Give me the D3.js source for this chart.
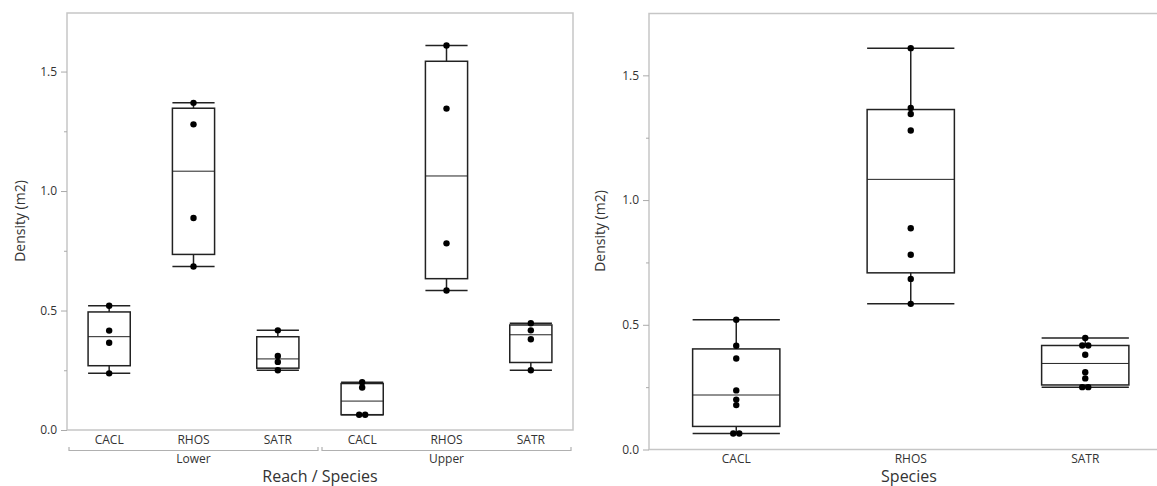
<!DOCTYPE html>
<meta charset="utf-8">

<!-- Load d3.js -->
<script src="https://d3js.org/d3.v7.min.js"></script>

<style>
  body { margin: 0; background: #fff; }
  text { font-family: "Segoe UI", "Open Sans", sans-serif; fill: #333; }
</style>

<div id="chart"></div>

<script>

// ---- data ----
var reaches = ["Lower", "Upper"];
var species = ["CACL", "RHOS", "SATR"];

// densities, one array per reach / species
var lowerCACL = [0.52, 0.416, 0.365, 0.237];
var lowerRHOS = [1.369, 1.279, 0.887, 0.684];
var lowerSATR = [0.417, 0.31, 0.285, 0.25];
var upperCACL = [0.20, 0.178, 0.064, 0.064];
var upperRHOS = [1.609, 1.345, 0.781, 0.584];
var upperSATR = [0.447, 0.417, 0.38, 0.25];

var yTicks = [0, 0.5, 1.0, 1.5];
var yMinor = [0.25, 0.75, 1.25];

var groups = [
  {reach: "Lower", sp: "CACL", values: lowerCACL},
  {reach: "Lower", sp: "RHOS", values: lowerRHOS},
  {reach: "Lower", sp: "SATR", values: lowerSATR},
  {reach: "Upper", sp: "CACL", values: upperCACL},
  {reach: "Upper", sp: "RHOS", values: upperRHOS},
  {reach: "Upper", sp: "SATR", values: upperSATR}
];

// pooled by species for the right-hand plot
var pooled = species.map(function(s) {
  var vals = [];
  groups.forEach(function(g) { if (g.sp == s) vals = vals.concat(g.values); });
  return {sp: s, values: vals};
});

var svg = d3.select("#chart")
  .append("svg")
    .attr("width", 1157)
    .attr("height", 486);

// quantile the way JMP does it: position p*(n+1)
function quant(sorted, p) {
  var n = sorted.length, pos = p * (n + 1);
  if (pos <= 1) return sorted[0];
  if (pos >= n) return sorted[n - 1];
  var i = Math.floor(pos), f = pos - i;
  return sorted[i - 1] + f * (sorted[i] - sorted[i - 1]);
}

function stats(values) {
  var s = values.slice().sort(d3.ascending);
  var q1 = quant(s, 0.25), med = quant(s, 0.5), q3 = quant(s, 0.75);
  var iqr = q3 - q1;
  var lo = d3.min(s.filter(function(v) { return v >= q1 - 1.5 * iqr; }));
  var hi = d3.max(s.filter(function(v) { return v <= q3 + 1.5 * iqr; }));
  return {q1: q1, med: med, q3: q3, lo: lo, hi: hi};
}

// draws one box plot panel
function panel(g, rows, keyOf, x, y) {
  var bw = x.bandwidth() / 2;

  // frame
  var r = x.range();
  g.append("rect")
    .attr("x", r[0]).attr("y", y.range()[1])
    .attr("width", r[1] - r[0]).attr("height", y.range()[0] - y.range()[1])
    .attr("fill", "none")
    .attr("stroke", "#c6c6c6")
    .attr("stroke-width", 1.5);

  // y axis, major + minor ticks
  var yAxis = g.append("g")
    .attr("transform", "translate(" + r[0] + ",0)")
    .call(d3.axisLeft(y).tickValues(yTicks).tickFormat(d3.format(".1f")).tickSize(6).tickPadding(4));
  yAxis.select(".domain").remove();
  yAxis.selectAll("line").attr("stroke", "#aaa");
  yAxis.selectAll("text").attr("font-size", "12px").style("font-family", null);

  var yMin = g.append("g")
    .attr("transform", "translate(" + r[0] + ",0)")
    .call(d3.axisLeft(y).tickValues(yMinor).tickFormat("").tickSize(3));
  yMin.select(".domain").remove();
  yMin.selectAll("line").attr("stroke", "#aaa");

  rows.forEach(function(d) {
    var st = stats(d.values);
    var cx = x(keyOf(d)) + x.bandwidth() / 2;

    // whiskers
    g.append("line")
      .attr("x1", cx).attr("x2", cx)
      .attr("y1", y(st.q3)).attr("y2", y(st.hi))
      .attr("stroke", "#222").attr("stroke-width", 1.5);
    g.append("line")
      .attr("x1", cx).attr("x2", cx)
      .attr("y1", y(st.q1)).attr("y2", y(st.lo))
      .attr("stroke", "#222").attr("stroke-width", 1.5);
    [st.hi, st.lo].forEach(function(v) {
      g.append("line")
        .attr("x1", cx - bw / 2).attr("x2", cx + bw / 2)
        .attr("y1", y(v)).attr("y2", y(v))
        .attr("stroke", "#222").attr("stroke-width", 1.5);
    });

    // box
    g.append("rect")
      .attr("x", cx - bw / 2)
      .attr("y", y(st.q3))
      .attr("width", bw)
      .attr("height", y(st.q1) - y(st.q3))
      .attr("fill", "none")
      .attr("stroke", "#222")
      .attr("stroke-width", 1.5);

    // median
    g.append("line")
      .attr("x1", cx - bw / 2).attr("x2", cx + bw / 2)
      .attr("y1", y(st.med)).attr("y2", y(st.med))
      .attr("stroke", "#222").attr("stroke-width", 1);

    // points, ties put side by side
    var counts = {};
    d.values.forEach(function(v) { counts[v] = (counts[v] || 0) + 1; });
    var seen = {};
    d.values.forEach(function(v) {
      var k = counts[v], i = seen[v] || 0;
      seen[v] = i + 1;
      g.append("circle")
        .attr("cx", cx + (i - (k - 1) / 2) * 6)
        .attr("cy", y(v))
        .attr("r", 3.2)
        .attr("fill", "#000");
    });
  });
}

// ---- left panel: Reach / Species ----
var leftKeys = groups.map(function(d) { return d.reach + "|" + d.sp; });
var xL = d3.scaleBand().domain(leftKeys).range([67, 573]);
var yL = d3.scaleLinear().domain([0, 1.745]).range([430, 13]);
var gL = svg.append("g");
panel(gL, groups, function(d) { return d.reach + "|" + d.sp; }, xL, yL);

// species labels
gL.selectAll(".sp")
  .data(groups)
  .enter()
  .append("text")
    .attr("x", function(d) { return xL(d.reach + "|" + d.sp) + xL.bandwidth() / 2; })
    .attr("y", 444)
    .attr("text-anchor", "middle")
    .attr("font-size", "12px")
    .text(function(d) { return d.sp; });

// reach brackets
reaches.forEach(function(rch) {
  var x0 = xL(rch + "|" + species[0]) + 2;
  var x1 = xL(rch + "|" + species[species.length - 1]) + xL.bandwidth() - 2;
  gL.append("path")
    .attr("d", "M" + x0 + ",447V450.5H" + x1 + "V447")
    .attr("fill", "none")
    .attr("stroke", "#b0b0b0")
    .attr("stroke-width", 1.2);
  gL.append("text")
    .attr("x", (x0 + x1) / 2)
    .attr("y", 463)
    .attr("text-anchor", "middle")
    .attr("font-size", "12px")
    .text(rch);
});

gL.append("text")
  .attr("x", 320)
  .attr("y", 482)
  .attr("text-anchor", "middle")
  .attr("font-size", "16px")
  .text("Reach / Species");

gL.append("text")
  .attr("transform", "translate(25,221) rotate(-90)")
  .attr("text-anchor", "middle")
  .attr("font-size", "14px")
  .text("Density (m2)");

// ---- right panel: Species ----
var xR = d3.scaleBand().domain(species).range([649, 1172.5]);
var yR = d3.scaleLinear().domain([0, 1.748]).range([449.5, 13.5]);
var gR = svg.append("g");
panel(gR, pooled, function(d) { return d.sp; }, xR, yR);

gR.selectAll(".sp")
  .data(species)
  .enter()
  .append("text")
    .attr("x", function(d) { return xR(d) + xR.bandwidth() / 2; })
    .attr("y", 463)
    .attr("text-anchor", "middle")
    .attr("font-size", "12px")
    .text(function(d) { return d; });

gR.append("text")
  .attr("x", 909)
  .attr("y", 482)
  .attr("text-anchor", "middle")
  .attr("font-size", "16px")
  .text("Species");

gR.append("text")
  .attr("transform", "translate(605,231) rotate(-90)")
  .attr("text-anchor", "middle")
  .attr("font-size", "14px")
  .text("Density (m2)");

</script>
